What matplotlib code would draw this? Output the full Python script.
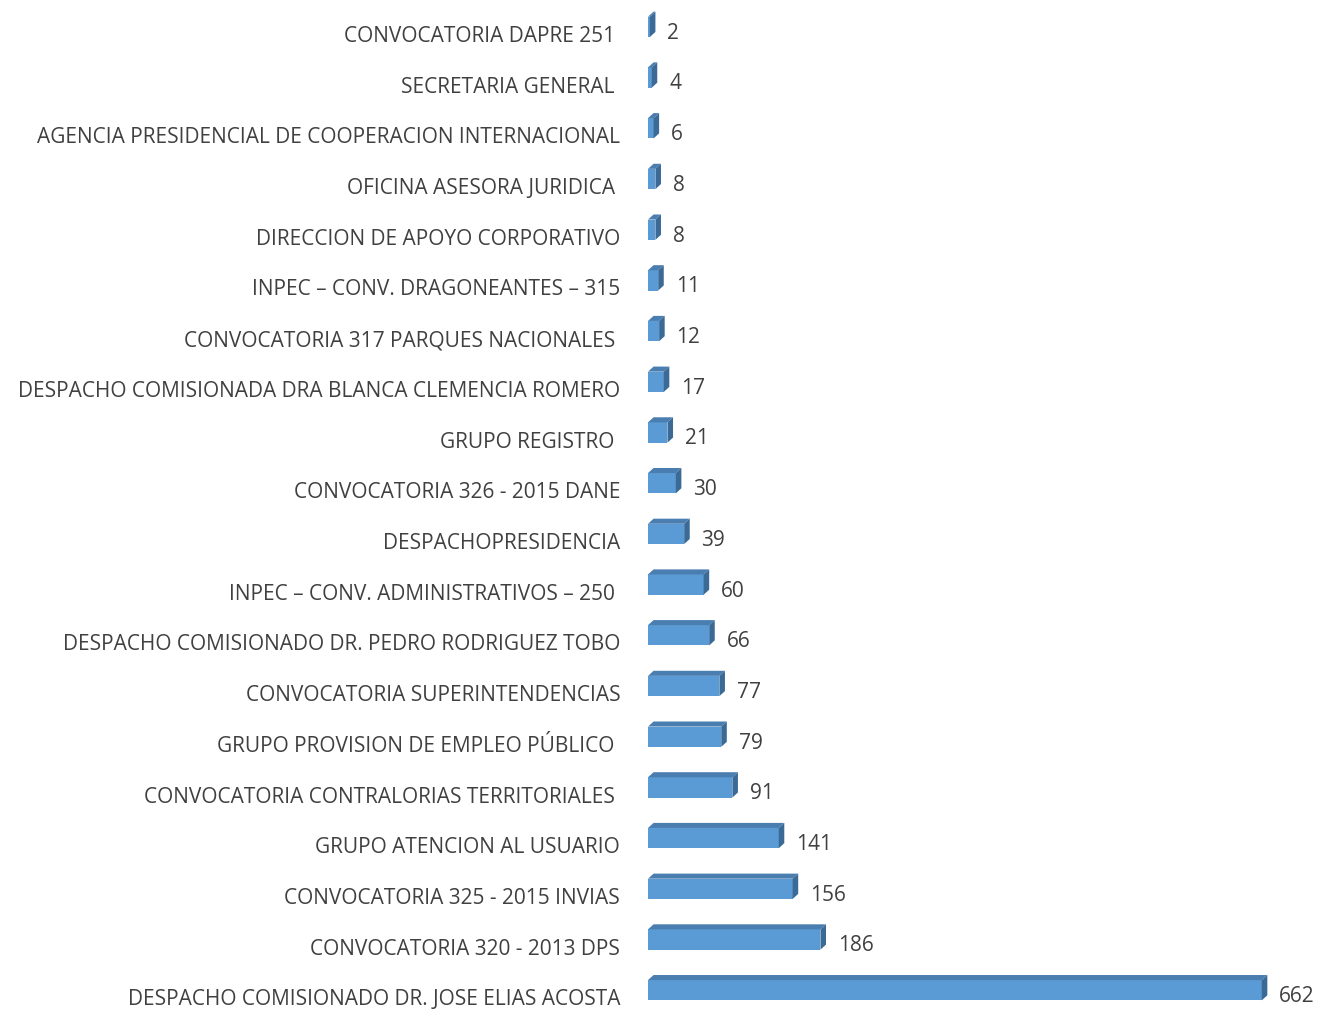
import matplotlib
matplotlib.use('Agg')
import matplotlib.pyplot as plt
from matplotlib.patches import Polygon

plt.rcParams['font.family'] = ['Open Sans', 'DejaVu Sans']

# datos (de arriba hacia abajo)
categorias = [
    'CONVOCATORIA DAPRE 251 ',
    'SECRETARIA GENERAL ',
    'AGENCIA PRESIDENCIAL DE COOPERACION INTERNACIONAL',
    'OFICINA ASESORA JURIDICA ',
    'DIRECCION DE APOYO CORPORATIVO',
    'INPEC – CONV. DRAGONEANTES – 315',
    'CONVOCATORIA 317 PARQUES NACIONALES ',
    'DESPACHO COMISIONADA DRA BLANCA CLEMENCIA ROMERO',
    'GRUPO REGISTRO ',
    'CONVOCATORIA 326 - 2015 DANE',
    'DESPACHOPRESIDENCIA',
    'INPEC – CONV. ADMINISTRATIVOS – 250 ',
    'DESPACHO COMISIONADO DR. PEDRO RODRIGUEZ TOBO',
    'CONVOCATORIA SUPERINTENDENCIAS',
    'GRUPO PROVISION DE EMPLEO PÚBLICO ',
    'CONVOCATORIA CONTRALORIAS TERRITORIALES ',
    'GRUPO ATENCION AL USUARIO',
    'CONVOCATORIA 325 - 2015 INVIAS',
    'CONVOCATORIA 320 - 2013 DPS',
    'DESPACHO COMISIONADO DR. JOSE ELIAS ACOSTA',
]
valores = [2, 4, 6, 8, 8, 11, 12, 17, 21, 30, 39, 60, 66, 77, 79, 91, 141, 156, 186, 662]

color_frente = '#5B9BD5'
color_techo = '#4A7DB0'
color_lado = '#3C6A96'
color_texto = '#404040'

fig = plt.figure(figsize=(13.23, 10.10), dpi=100)
ax = fig.add_axes([648 / 1323, 0, 649 / 1323, 1])
ax.set_xlim(0, 700)
ax.set_ylim(19.25, -0.67)

alto = 0.40      # alto de la cara frontal (en filas)
desplaz = 0.14   # la barra queda un poco arriba de la etiqueta
dx, dy = 6.0, 0.10  # profundidad 3D en unidades de datos

pos = list(range(len(valores)))
for i, v in zip(pos, valores):
    yc = i - desplaz
    y0, y1 = yc + alto / 2, yc - alto / 2   # y0 abajo, y1 arriba (eje invertido)
    ax.add_patch(Polygon([(0, y0), (v, y0), (v, y1), (0, y1)], closed=True,
                         facecolor=color_frente, edgecolor='none', zorder=2))
    ax.add_patch(Polygon([(0, y1), (v, y1), (v + dx, y1 - dy), (dx, y1 - dy)], closed=True,
                         facecolor=color_techo, edgecolor='none', zorder=2))
    ax.add_patch(Polygon([(v, y0), (v, y1), (v + dx, y1 - dy), (v + dx, y0 - dy)], closed=True,
                         facecolor=color_lado, edgecolor='none', zorder=3))
    ax.annotate(str(v), xy=(v + dx, i), xytext=(8.5, 0.5), textcoords='offset points',
                ha='left', va='center', fontsize=15, color=color_texto)

ax.set_yticks(pos)
ax.set_yticklabels(categorias, fontsize=15, color=color_texto)
ax.tick_params(axis='y', length=0, pad=20)
ax.set_xticks([])
for s in ax.spines.values():
    s.set_visible(False)

fig.savefig('out.png', dpi=100)
